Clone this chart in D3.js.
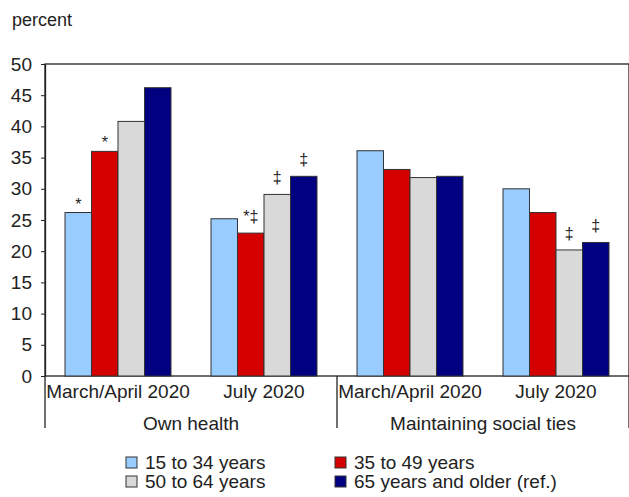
<!DOCTYPE html>
<html>
<head>
<meta charset="utf-8">
<script src="https://cdn.jsdelivr.net/npm/d3@7"></script>
<style>
  html, body { margin: 0; padding: 0; background: #fff; }
  svg { display: block; }
  text { font-family: "Liberation Sans", Arial, sans-serif; fill: #222; }
</style>
</head>
<body>
<svg id="chart" width="629" height="497"></svg>
<script>
// Survey periods within each topic
const periods = ["March/April 2020", "July 2020", "March/April 2020", "July 2020"];
// Topic each period belongs to
const topics = ["Own health", "Maintaining social ties"];
// Age groups (series)
const ageGroups = ["15 to 34 years", "35 to 49 years", "50 to 64 years", "65 years and older (ref.)"];
const ageColors = ["#99ccff", "#d40000", "#d9d9d9", "#000080"];

// Percent concerned, one array per age group, in period order
const age15to34 = [26.2, 25.2, 36.1, 30.0];
const age35to49 = [36.0, 22.9, 33.1, 26.2];
const age50to64 = [40.8, 29.1, 31.8, 20.2];
const age65plus = [46.2, 32.0, 32.0, 21.4];

// Significance markers, one array per age group, in period order
const marks15to34 = ["*", "", "", ""];
const marks35to49 = ["*", "*‡", "", ""];
const marks50to64 = ["", "‡", "", "‡"];
const marks65plus = ["", "‡", "", "‡"];

const yTicks = [0, 5, 10, 15, 20, 25, 30, 35, 40, 45, 50];

const seriesValues = [age15to34, age35to49, age50to64, age65plus];
const seriesMarks = [marks15to34, marks35to49, marks50to64, marks65plus];

const svg = d3.select("#chart");
const plot = { left: 45, right: 629, top: 64, bottom: 376 };

const x0 = d3.scaleBand()
  .domain(d3.range(periods.length))
  .range([plot.left, plot.right])
  .paddingInner(0)
  .paddingOuter(0);

const x1 = d3.scaleBand()
  .domain(d3.range(ageGroups.length))
  .range([0, x0.bandwidth()])
  .paddingInner(0)
  .paddingOuter(0.755);

const y = d3.scaleLinear().domain([0, 50]).range([plot.bottom, plot.top]);

// Unit label
svg.append("text")
  .attr("x", 12).attr("y", 26)
  .attr("font-size", 18)
  .text("percent");

// Frame
svg.append("rect")
  .attr("x", plot.left).attr("y", plot.top)
  .attr("width", plot.right - plot.left).attr("height", plot.bottom - plot.top)
  .attr("fill", "none").attr("stroke", "#222").attr("stroke-width", 1.3);

// Y axis
const yAxis = d3.axisLeft(y).tickValues(yTicks).tickSize(4).tickSizeOuter(0).tickPadding(9);
const yg = svg.append("g").attr("transform", `translate(${plot.left},0)`).call(yAxis);
yg.select(".domain").attr("stroke", "#222").attr("stroke-width", 1.3);
yg.selectAll(".tick line").attr("stroke", "#222");
yg.selectAll(".tick text").attr("font-size", 19).attr("fill", "#222")
  .attr("font-family", "'Liberation Sans', Arial, sans-serif");

// Bars
const groups = svg.append("g").selectAll("g")
  .data(periods.map((p, i) => i))
  .join("g")
  .attr("transform", i => `translate(${x0(i)},0)`);

groups.selectAll("rect")
  .data(i => seriesValues.map((vals, s) => ({ s, v: vals[i], m: seriesMarks[s][i] })))
  .join("rect")
  .attr("x", d => x1(d.s))
  .attr("y", d => y(d.v))
  .attr("width", x1.bandwidth())
  .attr("height", d => y(0) - y(d.v))
  .attr("fill", d => ageColors[d.s])
  .attr("stroke", "#333")
  .attr("stroke-width", 1);

// Significance markers above bars
groups.selectAll("text.mark")
  .data(i => seriesValues.map((vals, s) => ({ s, v: vals[i], m: seriesMarks[s][i] })).filter(d => d.m))
  .join("text")
  .attr("class", "mark")
  .attr("x", d => x1(d.s) + x1.bandwidth() / 2)
  .attr("y", d => y(d.v) - (d.m.includes("‡") ? 11 : 3))
  .attr("text-anchor", "middle")
  .attr("font-size", 16)
  .text(d => d.m);

// Period labels
svg.append("g").selectAll("text")
  .data(periods)
  .join("text")
  .attr("x", (d, i) => x0(i) + x0.bandwidth() / 2)
  .attr("y", 398)
  .attr("text-anchor", "middle")
  .attr("font-size", 19)
  .text(d => d);

// Topic labels and separators
const topicWidth = (plot.right - plot.left) / topics.length;
svg.append("g").selectAll("text")
  .data(topics)
  .join("text")
  .attr("x", (d, i) => plot.left + topicWidth * i + topicWidth / 2)
  .attr("y", 430)
  .attr("text-anchor", "middle")
  .attr("font-size", 19)
  .text(d => d);

svg.append("g").selectAll("line")
  .data(d3.range(topics.length + 1))
  .join("line")
  .attr("x1", i => plot.left + topicWidth * i)
  .attr("x2", i => plot.left + topicWidth * i)
  .attr("y1", plot.bottom)
  .attr("y2", 428)
  .attr("stroke", "#222")
  .attr("stroke-width", 1.3);

// Legend
const legend = svg.append("g").selectAll("g")
  .data(ageGroups)
  .join("g")
  .attr("transform", (d, i) => `translate(${126 + (i % 2) * 209},${457 + Math.floor(i / 2) * 19})`);

legend.append("rect")
  .attr("width", 11).attr("height", 11)
  .attr("fill", (d, i) => ageColors[i])
  .attr("stroke", "#333").attr("stroke-width", 1);

legend.append("text")
  .attr("x", 19).attr("y", 12)
  .attr("font-size", 19)
  .text(d => d);
</script>
</body>
</html>
